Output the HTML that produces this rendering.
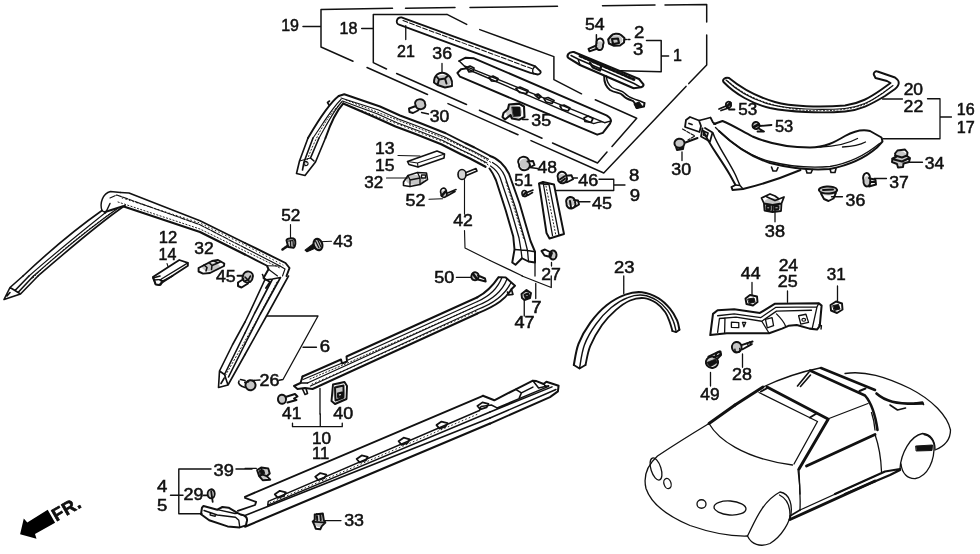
<!DOCTYPE html>
<html><head><meta charset="utf-8"><title>Parts diagram</title>
<style>
html,body{margin:0;padding:0;background:#fff;overflow:hidden;}
svg{display:block;}
.l{fill:none;stroke:#111;stroke-linecap:round;stroke-linejoin:round;}
.f{fill:#111;stroke:#111;}
.w{fill:#fff;stroke:#111;stroke-linejoin:round;}
text{font-family:"Liberation Sans",sans-serif;font-size:16px;fill:#111;}
</style></head><body>
<svg style="will-change:transform" width="980" height="554" viewBox="0 0 980 554">
<rect width="980" height="554" fill="#fff"/>
<!-- 09_fills.frag -->
<g fill="#c6c6c6" stroke="none">
<ellipse cx="443.0" cy="81.0" rx="8.5" ry="6.0"/>
<ellipse cx="420.0" cy="104.5" rx="4.8" ry="4.2"/>
<ellipse cx="616.0" cy="40.0" rx="6.5" ry="4.8"/>
<ellipse cx="599.8" cy="45.0" rx="3.2" ry="3.8"/>
<ellipse cx="729.5" cy="104.5" rx="2.6" ry="3.0"/>
<ellipse cx="756.0" cy="126.0" rx="3.4" ry="3.4"/>
<ellipse cx="679.5" cy="143.5" rx="4.8" ry="4.4"/>
<ellipse cx="900.5" cy="158.5" rx="7.0" ry="7.5"/>
<ellipse cx="867.0" cy="181.0" rx="3.4" ry="4.8"/>
<ellipse cx="828.0" cy="191.0" rx="8.5" ry="4.5"/>
<ellipse cx="772.0" cy="205.0" rx="9.0" ry="7.0"/>
<ellipse cx="525.0" cy="163.6" rx="5.6" ry="5.2"/>
<ellipse cx="562.0" cy="178.5" rx="4.6" ry="4.6"/>
<ellipse cx="571.0" cy="201.0" rx="4.6" ry="4.6"/>
<ellipse cx="524.5" cy="194.5" rx="2.6" ry="3.0"/>
<ellipse cx="553.0" cy="255.0" rx="3.6" ry="4.4"/>
<ellipse cx="526.5" cy="295.0" rx="4.0" ry="4.0"/>
<ellipse cx="475.0" cy="276.6" rx="3.4" ry="3.4"/>
<ellipse cx="443.5" cy="194.0" rx="3.0" ry="3.5"/>
<ellipse cx="415.0" cy="180.0" rx="9.0" ry="5.0"/>
<ellipse cx="250.5" cy="385.5" rx="4.8" ry="4.8"/>
<ellipse cx="282.0" cy="399.0" rx="4.0" ry="4.4"/>
<ellipse cx="339.0" cy="393.0" rx="6.0" ry="9.0"/>
<ellipse cx="263.5" cy="474.0" rx="5.5" ry="5.5"/>
<ellipse cx="211.0" cy="494.0" rx="3.4" ry="4.4"/>
<ellipse cx="319.0" cy="520.0" rx="5.0" ry="7.0"/>
<ellipse cx="736.5" cy="346.5" rx="4.6" ry="5.0"/>
<ellipse cx="712.0" cy="361.0" rx="5.6" ry="5.2"/>
<ellipse cx="247.5" cy="277.0" rx="4.6" ry="4.2"/>
<ellipse cx="211.0" cy="267.0" rx="9.0" ry="4.5"/>
<ellipse cx="462.3" cy="174.8" rx="3.8" ry="4.8"/>
<ellipse cx="514.0" cy="112.0" rx="8.0" ry="7.0"/>
</g>
<!-- 10_t_0_138.frag -->
<g transform="translate(0,138) scale(0.25)" class="l" stroke-width="5.72">
<!-- windshield moulding corner + arms -->
<path d="M408,290 C398,262 410,222 442,214 L482,218"/>
<path d="M482,218 L516,220 L800,331 L980,420" stroke-width="6.50"/>
<path d="M440,240 L467,228 L800,347 L980,440" stroke-width="4.55" stroke-dasharray="22 5"/>
<path d="M420,296 L492,273 L800,376 L980,466" stroke-width="9.10"/>
<path d="M408,290 C300,366 200,450 92,552" stroke-width="6.50"/>
<path d="M420,300 C320,380 220,460 116,552" stroke-width="4.55"/>
<path d="M470,282 C360,360 250,450 134,552" stroke-width="4.55"/>
<path d="M500,270 C390,345 270,450 152,552" stroke-width="6.50"/>
<path d="M408,290 L422,300 L440,262"/>
</g>

<!-- 11_t_245_138.frag -->
<g transform="translate(245,138) scale(0.25)" class="l" stroke-width="6.50">
<!-- pillar bottom (top-left) -->
<path d="M252,0 L218,92 L206,142 L240,150 L282,96 L322,0"/>
<path d="M272,0 L236,96 L230,128 M296,0 L262,80 L276,92"/>
<path d="M218,92 L262,80 M236,100 a8,8 0 1,0 16,4 a8,8 0 1,0 -16,-4" stroke-width="4.55"/>
<!-- leaders -->
<path d="M612,70 L700,72 M566,160 L650,160 M736,245 L790,243 M182,346 L182,400 M300,415 L346,413 M878,166 L878,305 M878,370 L880,440 L980,490" stroke-width="4.55"/>
<!-- pad 13 -->
<path d="M650,94 L768,52 L798,64 L796,80 L692,116 L656,106 Z"/>
<path d="M692,116 L690,100 L650,94 M690,100 L798,64" stroke-width="4.55"/>
<!-- clip 32 -->
<path d="M634,176 L652,150 L690,138 L726,140 L730,166 L700,186 L660,194 L634,190 Z"/>
<path d="M652,150 L660,168 L700,160 L690,138 M660,168 L660,194 M700,160 L700,186 M706,148 h16 v12 h-16z" stroke-width="5.20"/>
<!-- screw 52 -->
<path d="M784,222 a12,14 0 1,0 22,-6 a12,14 0 1,0 -22,6 M806,222 L844,206 M808,232 L840,214" />
<path d="M788,230 l14,-16" stroke-width="10.40"/>
<!-- pin 42 -->
<ellipse cx="868" cy="146" rx="16" ry="20" fill="#d4d4d4" stroke-width="6.50"/>
<path d="M884,138 L924,122 L928,132 L886,150" />
<!-- moulding bottom-left -->
<path d="M0,420 L162,500 L178,520 L166,552" stroke-width="7.80"/><path d="M0,440 L140,512 L160,524 L150,552" stroke-width="4.55"/><path d="M0,466 L88,511 L94,525 L74,560 L100,576 L84,600" stroke-width="7.80"/><path d="M88,511 L140,512 M94,525 L130,552" stroke-width="4.55"/>
<!-- roof moulding top right -->

</g>

<!-- 12_t_490_138.frag -->
<g transform="translate(490,138) scale(0.25)" class="l" stroke-width="6.50">
<!-- bracket 8/9, leaders -->
<path d="M436,165 L495,165 L495,210 L266,210 M495,188 L540,188 M356,255 L400,255 M768,56 L768,90 M160,118 L190,122 M330,160 L350,160" stroke-width="5.20"/>
<!-- rear pillar -->
<path d="M0,72 C30,80 60,110 76,143 L119,264 L162,412 L180,455 L180,498 L154,494 L128,481 L102,507 L89,498 L98,446 L93,394 L63,290 L24,169 C16,150 8,135 -2,122" stroke-width="7.80"/>
<path d="M10,98 C34,112 50,130 59,152 L100,273 L139,406 L150,450 M2,112 C20,124 34,140 41,160 L82,281 L116,400 L124,448 M98,446 L124,448 L150,450 L180,455 M124,448 L128,481 M150,450 L154,494" stroke-width="5.20"/>
<path d="M0,490 L130,552 M180,498 L180,552 M246,498 L246,512" stroke-width="5.20"/>
<!-- strip 8/9 -->
<path d="M196,182 L212,176 L256,186 L296,384 L238,402 L226,380 Z" stroke-width="7.80"/>
<path d="M212,176 L250,390 M236,186 L276,388 M196,182 L236,186" stroke-width="5.20"/>
<!-- clip 48 -->
<g transform="translate(0,10)">
<path d="M116,96 a22,20 0 1,0 40,-8 a22,20 0 1,0 -40,8 M150,84 l22,-2 l6,16 l-20,10" stroke-width="7.80"/>
</g>
<!-- clip 46 -->
<g transform="translate(0,5)">
<path d="M272,156 a18,18 0 1,0 34,-6 a18,18 0 1,0 -34,6 M304,146 l22,-2 l6,16 l-24,12" stroke-width="7.80"/>
<path d="M280,160 l18,-12 M284,170 l16,-12" stroke-width="7.80"/>
</g>
<!-- clip 45 -->
<g transform="translate(0,8)">
<path d="M306,254 a18,18 0 1,0 34,-6 a18,18 0 1,0 -34,6 M336,240 l16,2 l4,16 l-20,12 M320,244 l4,26" stroke-width="7.80"/>
</g>
<!-- screw 51 -->
<path d="M128,224 a10,12 0 1,0 20,-4 a10,12 0 1,0 -20,4 M148,218 L172,208 M150,230 L170,218" stroke-width="6.50"/>
<path d="M132,230 l12,-12" stroke-width="9.10"/>
<!-- clip 27 -->
<path d="M206,452 l14,-6 l28,14 l-6,16 l-24,-6 z M238,470 a14,18 0 1,0 28,-4 a14,18 0 1,0 -28,4" stroke-width="7.80"/>
<!-- clip 30 -->
<path d="M738,24 a20,18 0 1,0 40,-6 a20,18 0 1,0 -40,6 M744,36 l4,12 l24,-4 l2,-12 M782,18 L830,0" stroke-width="7.80"/>
</g>

<!-- 13_t_735_138.frag -->
<g transform="translate(735,138) scale(0.25)" class="l" stroke-width="6.50">
<!-- clip 34 -->
<path d="M650,50 l30,-4 l10,12 l-2,14 l12,8 l-4,16 l-22,6 l-2,14 l-20,2 l-4,-14 l-20,-8 l2,-14 l14,-6 l-4,-14 z M628,84 l40,10 l30,-14 M640,70 l28,8 l20,-8" stroke-width="7.80"/>
<path d="M692,97 L750,97 M556,162 L606,162 M386,235 L430,235 M160,290 L160,335" stroke-width="5.20"/>
<!-- clip 37 -->
<path d="M514,170 a14,20 0 1,0 26,-6 a14,20 0 1,0 -26,6 M536,160 l26,8 l2,18 l-28,8 M540,176 l22,0" stroke-width="7.80"/>
<!-- clip 36 -->
<path d="M336,210 a36,14 0 1,0 72,-4 a36,14 0 1,0 -72,4 M344,222 l12,22 l18,8 l20,-10 l10,-24 M352,208 l40,-2" stroke-width="7.80"/>
<!-- clip 38 -->
<path d="M106,240 L140,224 L160,232 L176,244 L196,236 L186,262 L184,292 L150,296 L118,290 L116,262 Z M116,262 L150,268 L186,262 M150,268 L150,296 M128,236 L160,250 L176,244 M126,272 l14,2 l0,12 l-14,-2 z M158,274 l16,-2 l0,12 l-16,2z" stroke-width="7.15"/>
</g>

<!-- 14_t_0_276.frag -->
<g transform="translate(0,276) scale(0.25)" class="l" stroke-width="6.50">
<!-- left arm tip -->
<path d="M92,0 L40,46 L16,94 L82,72 L152,0 M40,46 L60,58 L82,72 M60,58 L116,0 M74,64 L134,0 M28,80 L40,66"/>
<!-- pad 12/14 bottom end -->
<path d="M612,8 L640,0 M612,8 L622,34 L642,36 L652,20 L690,0 M640,16 L652,20" />
<!-- right arm lower tip -->
<path d="M980,184 L930,275 L878,380 L874,446 L912,436 L980,314 M878,380 L898,394 L912,436 M898,394 L980,228 M914,404 L980,272 M884,430 L896,410" />
<!-- 26 clip bit -->
<path d="M956,420 C950,430 960,440 980,446 M962,414 L980,418" />
</g>

<!-- 15_t_245_276.frag -->
<g transform="translate(245,276) scale(0.25)" class="l" stroke-width="6.50">
<!-- part 6 right arm -->
<path d="M174,0 L86,160 L0,314 M142,6 L60,155 L0,272 M110,12 L38,150 L0,228 M79,16 L19,145 L0,184 M70,-6 L79,16 L110,12 L142,6" />
<path d="M0,20 l14,-6 l8,-14" />
<!-- bracket 6 -->
<path d="M86,160 L292,160 L152,414 L136,417 M232,285 L286,285 M30,418 L60,416 M300,450 L300,552" stroke-width="5.20"/>
<!-- sill upper moulding 10/11 -->
<path d="M230,402 L384,334 L388,350 L408,342 L406,322 L930,85" stroke-width="7.80"/>
<path d="M232,414 L384,350 M412,336 L930,102 M250,428 L930,118 M262,440 L930,134" stroke-width="5.20"/>
<path d="M230,402 L222,428 L196,440 L210,452 L240,448 L270,452 L930,150" stroke-width="7.80"/>
<path d="M222,428 L250,428 M230,452 l10,22 l10,-4 l-6,-20" stroke-width="6.50"/>

<!-- clip 40 -->
<path d="M352,434 L398,424 L408,440 L406,492 L360,512 L346,500 Z M360,446 L394,438 L394,486 L362,498 Z M372,470 l16,-4 l0,14 l-16,4z" stroke-width="7.80"/>
<!-- clip 41 -->
<path d="M132,496 a16,18 0 1,0 32,-6 a16,18 0 1,0 -32,6 M162,484 L200,472 L210,482 L196,490 L206,496 L170,506" stroke-width="7.80"/>
<!-- clip 26 -->
<path d="M2,440 a20,20 0 1,0 40,-6 a20,20 0 1,0 -40,6 M0,426 l14,-4" stroke-width="7.80"/>
</g>

<!-- 16_t_490_276.frag -->
<g transform="translate(490,276) scale(0.25)" class="l" stroke-width="6.50">
<!-- leaders -->
<path d="M183,30 L183,90 M128,0 L245,46 L245,0 M137,96 L137,160 M535,0 L535,70 M882,386 L882,440" stroke-width="5.20"/>
<!-- clip 47 -->
<path d="M126,72 L146,56 L164,68 L160,88 L138,96 L128,88 Z M138,76 l14,-6 l4,10 l-14,6z" stroke-width="7.80"/>
<!-- clip 49 -->
<path d="M864,350 a24,22 0 1,0 48,-10 a24,22 0 1,0 -48,10 M900,326 l6,-18 l16,-6 l2,14 l-12,12" stroke-width="7.80"/>
<path d="M866,346 l36,-14 l8,14 l-30,18z" class="f" stroke-width="2.60"/>
</g>

<!-- 17_t_735_276.frag -->
<g transform="translate(735,276) scale(0.25)" class="l" stroke-width="6.50">
<path d="M68,26 L68,76 M210,60 L210,105 M410,40 L410,100 M30,312 L30,365" stroke-width="5.20"/>
<!-- clip 44 -->
<path d="M42,90 L60,76 L88,82 L90,104 L72,118 L46,112 Z" stroke-width="7.80"/>
<path d="M52,92 l24,-4 l4,16 l-22,6z" class="f" stroke-width="3.90"/>
<!-- clip 31 -->
<path d="M382,116 L404,102 L428,110 L430,134 L408,148 L384,138 Z" stroke-width="7.80"/>
<path d="M392,118 l22,-4 l6,18 l-22,6z" class="f" stroke-width="3.90"/>
</g>

<!-- 18_t_0_414.frag -->
<g class="l" stroke-width="1.43">
<path d="M211,469 L178.8,469 L178.8,513.8 L202,513.8 M170.5,495.3 L183,495.3 M236,469 L252,469"/>
</g>
<polygon points="20.1,534.2 23.8,518.5 27.3,522.4 47.7,509.8 55.1,522.7 35,534 36.5,538.8" fill="#000"/>
<g><text transform="translate(56.2,521.8) rotate(-30)" font-weight="700" style="font-weight:700;font-size:18px;letter-spacing:0.6px" fill="#000" stroke="#000" stroke-width="0.59">FR.</text></g>
<g transform="translate(0,414) scale(0.2526)" class="l" stroke-width="7.15">
<!-- clip 29 -->
<path d="M822,318 a14,18 0 1,0 28,-4 a14,18 0 1,0 -28,4 M836,306 l6,42 M806,322 l14,0" />
</g>

<!-- 19_t_245_414.frag -->
<g transform="translate(245,414) scale(0.2526)" class="l" stroke-width="7.15">
<path d="M188,36 L188,50 L385,50 L385,36 M298,0 L298,50 M0,215 L45,215 M316,422 L380,422" stroke-width="5.20"/>
<!-- clip 39 -->
<path d="M48,222 L64,212 L92,216 L98,236 L86,246 L100,260 L70,262 L56,246 Z M64,212 L70,240 L86,246 M70,240 L56,246" stroke-width="7.80"/>
<path d="M58,224 l16,-2 l4,14 l-16,4z" class="f" stroke-width="3.90"/>
<!-- clip 33 -->
<path d="M276,398 L308,394 L312,420 L318,430 L304,444 L298,456 L280,454 L274,438 L268,426 L276,418 Z M268,426 L318,430 M284,396 l2,24 M298,396 l2,24" stroke-width="7.80"/>
<!-- sill lower moulding -->
<path d="M0,328 L942,-72" stroke-width="7.80"/>
<path d="M92,346 L928,-14 M92,346 L90,362 L970,-8" stroke-width="5.85"/>
<path d="M0,402 L970,16" stroke-width="6.50"/>
<path d="M0,446 L970,38" stroke-width="8.45"/>

<g stroke-width="7.15">
<path d="M118,318 l20,-14 l24,6 l-8,14 l-24,8z M278,248 l20,-14 l24,6 l-8,14 l-24,8z M442,178 l20,-14 l24,6 l-8,14 l-24,8z M608,108 l20,-14 l24,6 l-8,14 l-24,8z M758,44 l20,-14 l24,6 l-8,14 l-24,8z M920,-32 l20,-14 l24,6 l-8,14 l-24,8z"/>
</g>
</g>

<!-- 20_t_245_0.frag -->
<g transform="translate(245,0) scale(0.25)" class="l" stroke-width="6.50">
<!-- leaders -->
<path d="M643,103 L643,158 M788,254 L788,288 M706,450 L734,456" stroke-width="5.20"/>
<!-- clip 36 -->
<path d="M756,330 C756,300 776,288 796,292 C820,298 832,320 828,344 L800,350 L770,340 Z M770,340 l6,-22 l24,-4 l6,20 M776,318 l-8,-10 M800,314 l10,-10" stroke-width="7.80"/>
<!-- clip 30 -->
<path d="M682,420 a20,16 0 1,0 38,-6 a20,16 0 1,0 -38,6 M684,424 l-28,10 l2,14 l14,4 l20,-10" stroke-width="7.80"/>
<!-- rear roof moulding -->
<path d="M375,384 L397,377 L540,426 L620,462 L700,492 L803,533 L880,572 L918,590 L952,608 L980,623 " stroke-width="7.80"/>
<path d="M384,392 L534,440 L614,476 L694,506 L797,547 L874,586 L912,604 L946,622 L974,637 " stroke-width="4.55"/>
<path d="M390,404 L528,455 L608,491 L688,521 L791,562 L868,601 L906,619 L940,637 L968,652 " stroke-width="4.55"/>
<path d="M393,414 L522,470 L602,506 L682,536 L785,577 L862,616 L900,634 L934,652 L962,667 " stroke-width="9.10"/>
<path d="M375,384 C340,410 300,470 252,552" stroke-width="7.80"/>
<path d="M384,398 C350,430 315,490 272,552 M388,406 C356,440 326,500 296,552" stroke-width="4.55"/>
<path d="M393,414 C360,450 340,500 322,552" stroke-width="7.80"/>
<path d="M338,404 l-8,6 l6,10" stroke-width="6.50"/>
</g>

<!-- 21_top.frag -->
<g class="l" stroke-width="1.49">
<!-- box 19 -->
<path d="M392.5,8.3 L321,9.4 L321,47 L353,61.3 M367,67.5 L427.5,94.5 M448,103.6 L518,134.8 M531,140.6 L603.75,173 L686,86.4 M688.8,83.6 L706.7,65 L706.7,35 M706.7,22 L706.7,4.4 L665,4.9 M655,5 L602.5,5.7 M557.5,6.3 L470,7.4 M455,7.6 L405.5,8.2 M303,26.5 L320,26.5"/>
<!-- box 18 -->
<path d="M447,14.4 L373.3,14.4 L373.3,62.6 L386.5,69 M396.6,73.5 L466.5,104.5 M479.4,110.2 L542,138.2 M552.5,143 L597.5,163 L607,152 M612,146.5 L636.7,118.2 L595.3,99.8 M581.5,93.8 L553.9,79.6 L553.9,56.6 L479.8,29.6 M466.7,24.4 L447,14.4 M361.7,28.4 L372.7,28.4"/>
<!-- bracket 1, leaders -->
<path d="M646.5,40.4 L661.2,40.4 L661.2,71.7 L620.7,70.7 M661.2,56 L668.6,56 M596.4,34.8 L596.4,44 M522.6,119.5 L528,119.5"/>
<path d="M624.4,39.6 L630,39.6" stroke-dasharray="2 1.5"/>
</g>
<g class="l" stroke-width="1.82">
<!-- strip 21 -->
<path d="M401.4,17.3 C396,17 395.5,24 399,24.7 L530.4,72.9 L537.8,74.5 C541,74 541.5,71.5 539.4,70.4 L535.3,66.3 Z"/>
<path d="M403,20.6 L534,69.5" stroke-width="1.04" stroke-dasharray="5 2"/>
<path d="M535.3,66.3 C533,68 532,71 533.5,73.8" stroke-width="1.30"/>
<!-- garnish -->
<path d="M459.2,61 L465.6,57.7 L474,58.3 L606.5,115.3 C609.5,117 611,119 611,120.9 L610,123.6 L602.8,132.8 L597.2,134.7 L460,76.7 L457.4,73 L461,69.3 L466.6,68.4" stroke-width="1.95"/>
<path d="M459.2,61 L463.8,65.6 L604.6,122.7 L611,120.9 M463.8,65.6 L466.6,68.4 L474,72 L593.6,123.6 M593.6,123.6 C598,122 602,121 604.6,122.7" stroke-width="1.43"/>
<g stroke-width="1.69">
<path d="M466.5,67.5 l3.5,-1.5 l4,2 l-1,3.5 l-4,0.5z M489,77.5 l4,-1.5 l5,2.5 l-1.5,3 l-5,-0.5z M516,88.5 l4,-1.5 l8,3.5 l-1.500,3 l-7,-1z M535,95 l3,-1 l3,2.500 l-2,2z M544,98.500 l4,-1 l6,3 l-2,3 l-6,-1.500z M560,106 l4,-1 l6,3 l-2,3 l-6,-1.500z M584,118 l4,-2 l5,2.500 l-2,4 l-6,-1z"/>
</g>
<!-- clip 35 -->
<path d="M509,104.500 L519,103.600 L524,106.500 L524.500,117 L519,119.800 L512,118.500 L510.500,115 L505,119.500 L502.500,117 L503.500,113 L508,109 Z" stroke-width="2.08"/>
<path d="M512,107 l8,0 l0.500,9 l-7,0.500z" class="f" stroke-width="0.65"/>
<!-- light 1 -->
<path d="M573.8,52 C568,51.500 566.500,56 568.3,57.9 L580,65 L633.6,88.2 L641,87.3 C644,86 644,84.500 642.8,83.6 L639,79 Z" stroke-width="2.08"/>
<path d="M571,55.500 L578,59 L634,83.500 L641,87.300 M578,59 L580,65" stroke-width="1.43"/>
<path d="M580,56 L634,79.500" stroke-width="2.86" stroke-dasharray="2.200 2.200"/>
<path d="M590,63 l3,4.500 l7,3 l1,-4" stroke-width="2.34"/>
<!-- wire -->
<path d="M604.200,76.300 C604,82 605,86 610,90 C616,93.500 620,92 623,95.500 C626,99 630,100 633,101 C636,103 635,106 636.500,108 L644,106.500 L644.500,103" stroke-width="1.95"/>
<path d="M606.500,76 C606.500,80 607.500,84 612,87.500 C617,90.500 622,90 625,93.500 C628,97 632,98 635.500,99.500 L640,101 L644.500,103" stroke-width="1.43"/>
<path d="M634,104 l5,-2 l3,4 l-5,2.500z" class="f" stroke-width="1.04"/>
<!-- screw 54 -->
<path d="M596.500,43.500 a3.600,4.200 0 1,0 6.500,1.500 a3.600,4.200 0 1,0 -6.500,-1.500 M596.300,45.500 L588.500,48.800 L589.500,51.300 L597.500,48.500" stroke-width="1.95"/>
<!-- clip 2 -->
<path d="M611,36 C613,33.500 618,33 621,35 L624.400,38 L624,42.500 L620,45.500 L614,45.800 L609,43.500 L608.200,39.500 Z M612,39 l6,-0.500 l1,4.500 l-6,1z" stroke-width="2.08"/>
</g>

<!-- 22_part16.frag -->
<g transform="translate(670,100) scale(0.25)" class="l" stroke-width="7.15">
<!-- part 16 main -->
<path d="M176,96 L210,84 C250,100 290,126 330,146 C400,176 480,190 560,190 C620,190 660,168 700,144 C740,122 770,116 800,124 L846,150 L850,166 L828,190 C780,232 720,260 640,276 C560,282 470,270 400,252 C320,226 250,176 196,124" stroke-width="7.80"/>
<path d="M182,110 C240,170 310,222 400,246 C470,264 560,272 640,266 C720,252 780,222 838,174" stroke-width="5.20"/>
<path d="M600,188 C660,186 710,176 750,154 M690,188 C730,186 760,180 782,168" stroke-width="5.20"/>
<path d="M406,268 l6,16 l14,0 l6,-14 M544,278 l4,14 l16,0 l6,-14 M640,276 l4,14 l16,0 l4,-16" stroke-width="6.50"/>
<!-- left descending -->
<path d="M134,124 C150,170 200,230 240,300 L262,340 L246,348 L250,360 L292,356 C360,340 450,310 522,280" stroke-width="7.80"/>
<path d="M172,132 C186,176 230,236 262,300 L280,342 L292,356 M262,340 L280,342" stroke-width="5.85"/>
<!-- bracket left -->
<path d="M64,80 L80,68 L116,82 L140,76 L162,70 L172,90 L182,96 M64,80 L60,108 L118,128 L124,104 L116,82 M130,114 L124,146 L160,166 L170,130 L140,112 M138,126 l14,6 l-4,14 l-14,-6z M76,94 l12,4" stroke-width="7.15"/>
<path d="M50,116 L100,144 L72,160" stroke-width="4.55" stroke-dasharray="14 6"/>
<!-- bracket 16/17 -->
<path d="M852,155 L1080,155 L1080,-5 L1030,-5 M930,-4 L850,-4 M1080,68 L1126,68" stroke-width="5.20"/>
<!-- strip 20/22 -->
<path d="M236,-88 C220,-92 208,-82 214,-72 C260,-24 330,16 400,32 C480,48 600,54 700,46 C760,40 800,20 860,-16 L900,-44 C920,-62 920,-76 900,-90 L830,-114 C822,-118 812,-108 816,-100 L822,-88 L868,-76 L882,-68 L846,-42 C800,-10 760,14 700,22 C600,30 480,26 420,8 C350,-12 280,-52 236,-88 Z" stroke-width="7.80"/>
<path d="M224,-80 C270,-36 340,2 410,20 C480,36 600,42 700,34 C760,28 800,8 852,-28 L892,-58" stroke-width="4.55"/>
<!-- screws 53 -->
<path d="M224,22 a10,12 0 1,0 20,-6 a10,12 0 1,0 -20,6 M224,24 L196,36 M234,32 L204,42 M236,38 L258,38" stroke-width="7.15"/>
<path d="M228,26 l14,-14" stroke-width="10.40"/>
<path d="M330,104 a14,14 0 1,0 28,-4 a14,14 0 1,0 -28,4 M352,112 l24,14 l-26,0 M358,104 L406,100" stroke-width="7.15"/>
<path d="M336,108 l18,-10" stroke-width="10.40"/>
</g>

<!-- 23_left_small.frag -->
<g class="l" stroke-width="1.82">
<!-- pad 12/14 -->
<path d="M152.900,277.100 L179.300,260 L187.900,262.900 L187.900,265.700 L161.400,282.900 L159.300,285 L155.700,284.300 L154.300,280 Z"/>
<path d="M154.300,280 L161,279.300 L187.900,262.900 M161,279.300 L161.400,282.900" stroke-width="1.30"/>
<path d="M167,263.500 l1,3" stroke-width="1.04"/>
<!-- clip 32 left -->
<path d="M198.600,268 L212,261 L218,260 L224.300,263.500 L224,266 L210,273 L203,273.600 L198.600,271.500 Z" stroke-width="1.95"/>
<path d="M204,265 l3,2.500 l-1,3.500 M209,262.500 l3,3 l7,-3 M212,265.500 l-0.500,4 M214,261 l4,2 l3,-1.500" stroke-width="1.56"/>
<!-- clip 45 left -->
<path d="M243,276 a5,4.500 0 1,0 9.500,2 a5,4.500 0 1,0 -9.500,-2 M243.500,279 l-5.500,3.500 l0,3.500 l3.500,1.500 l6.500,-4 M237.500,275.700 L243,275.700" stroke-width="1.95"/>
<path d="M245,277 l5,5" stroke-width="1.56"/>
</g>

<!-- 24_sill_end.frag -->
<g class="l" stroke-width="1.82">
<path d="M477.500,297.200 C487,292 494,284 498.600,277.100 L505.700,277.400 L515,285.700 L511.400,289.300 C506,298 498,305 477.500,313.300" stroke-width="1.95"/>
<path d="M477.500,301.500 C490,296 498,288 502,277.300 M477.500,305.500 C492,300 502,292 507,279 M477.500,309.500 C495,303 505,295 511,282.500" stroke-width="1.30"/>
<path d="M511.400,289.300 L512.900,294.300 L508.600,295 L507.500,292" stroke-width="1.69"/>
<!-- screw 50 -->
<path d="M471.500,275.500 a3.600,3.600 0 1,0 7,1.500 a3.600,3.600 0 1,0 -7,-1.500 M478,275.500 L485,278.500 L485.700,281.500 L478,279.500" stroke-width="1.95"/>
<path d="M473,274 l4,5" stroke-width="2.60"/>
<path d="M456.400,277.400 L471.400,277.400" stroke-width="1.30"/>
</g>

<!-- 25_sill_lower_end.frag -->
<g class="l" stroke-width="1.82">
<path d="M482.900,395.700 L494.300,400.300 L515.700,389.300 L532.900,380.700 L536.400,381.100 L543.600,384 L546.400,381.700 L558.600,385.700 L557.900,391.400 L550,397.100 L490,423.600" stroke-width="2.02"/>
<path d="M479.400,410.500 L481,406.500 L491.400,405 L497.100,407.900 L548.600,386.400 M490,412 L552,386.800 M490,418 L556,389.500" stroke-width="1.43"/>
<path d="M515.700,389.300 L521.400,392.900 L532.900,387.100 M521.400,392.900 L519.300,397.900 M532.900,380.700 L538.600,387.900 L548.600,385.700 M543.600,384 L546,386.500" stroke-width="1.56"/>
</g>

<!-- 26_sill_front_cap.frag -->
<g class="l" stroke-width="1.82">
<path d="M245,497.900 L256.100,501.900 L255.100,505 L237.800,510.800" stroke-width="1.82"/>
<path d="M202,507.700 L203.500,506 L217.300,509.700 L222.400,507 L228.600,507.700 L237.800,513.200 L240.800,514.600 C246,515.500 247.500,518 246.900,521 L245.900,525.400 L239.800,527.400 L227.600,526.400 L209.200,520.300 L201,514.200 Z" stroke-width="2.02"/>
<path d="M204,510.500 L217.300,515 L235.500,517.200 L238.800,520.300 M217.300,509.700 L235,513.500 L237.800,513.200 M210.200,512.600 l5,1.500 l0,2.200 l-5,-1.300z M240.800,514.600 L245,515.800 M238.800,520.300 L239.800,527.400" stroke-width="1.37"/>
</g>

<!-- 27_bracket24.frag -->
<g transform="translate(690,255) scale(0.18406)" class="l" stroke-width="9.10">
<path d="M125,320 L150,300 L240,295 L380,315 L460,265 L700,262 L715,275 L705,385 L690,405 L650,400 L580,380 L535,385 L500,400 L430,425 L200,425 L110,435 Z" stroke-width="11.05"/>
<path d="M150,330 L240,320 L385,340 L465,285 L690,282 L665,395 M160,345 L250,338 L390,360 L470,305 L660,300 M160,345 L150,420 M190,342 L188,425 M700,262 L690,282 M470,320 C490,340 510,360 520,388 M390,360 L430,425" stroke-width="7.15"/>
<path d="M225,365 l40,2 l0,28 l-40,-2z M285,366 l18,0 l-10,24z M410,350 l36,-10 l8,44 l-34,12z M590,330 l40,-8 l14,44 l-42,10z" stroke-width="7.15"/>
<ellipse cx="618" cy="352" rx="10" ry="8" stroke-width="6.50"/>
<path d="M700,380 l14,4 l-2,18" stroke-width="7.80"/>
<!-- screw 28 -->
<path d="M228,505 a26,28 0 1,0 52,-8 a26,28 0 1,0 -52,8 M280,490 L340,470 M286,512 L336,484" stroke-width="10.40"/>
<path d="M244,512 a14,14 0 1,0 26,-4" stroke-width="7.80"/>
<path d="M310,478 l8,16 M324,472 l6,14" stroke-width="6.50"/>
<!-- screw 49 tip -->
<path d="M100,552 L160,524 L168,540 L130,556" stroke-width="10.40"/>
</g>

<!-- 28_fasteners_a.frag -->
<g class="l" stroke-width="1.69">
<!-- clip 52 left -->
<path d="M286.500,240.200 C287,238.200 293,237.600 294.800,239.500 C295.900,242 295.600,246 293.600,247.800 L288.200,247 Z" fill="#bdbdbd" stroke-width="1.95"/>
<path d="M288.500,241 l4.500,-0.500 l0.300,5 M290.500,240.800 l0.200,5.500" stroke-width="1.17"/>
<path d="M287.500,246 L282.500,249.500" stroke-width="2.60" stroke-dasharray="1.500 1"/>
<!-- screw 43 -->
<ellipse cx="318" cy="244.500" rx="4.300" ry="5.800" transform="rotate(-20 318 244.500)" fill="#c4c4c4" stroke-width="2.08"/>
<path d="M315.500,241 l3.500,7 M317.800,240 l3.200,7" stroke-width="1.17"/>
<path d="M305,250.200 L313.200,243.800 L315.600,248 L307,251.800 Z" fill="#111" stroke-width="1.04"/>
</g>

<!-- 29_arch23.frag -->
<g class="l" stroke-width="1.82">
<!-- arch 23 -->
<path d="M573.8,365.0 C574.6,361.5 575.8,350.9 578.5,343.9 C581.2,336.9 585.5,329.2 590.2,322.8 C594.9,316.4 600.7,309.9 606.6,305.2 C612.5,300.5 619.5,296.8 625.4,294.6 C631.3,292.5 636.4,291.7 641.9,292.3 C647.4,292.9 653.6,295.4 658.3,298.1 C663.0,300.8 666.9,305.0 670.0,308.7 C673.1,312.4 675.5,316.9 677.1,320.4 C678.7,323.9 679.0,328.2 679.4,329.8" stroke-width="2.02"/>
<path d="M579.5,368.5 C580.3,364.6 581.6,352.5 584.4,345.0 C587.1,337.6 591.6,330.2 596.1,324.0 C600.6,317.7 606.0,311.9 611.3,307.5 C616.6,303.1 622.5,299.6 627.8,297.6 C633.0,295.5 638.1,294.7 643.0,295.2 C647.9,295.7 653.0,297.9 657.1,300.5 C661.2,303.0 664.9,306.9 667.6,310.4 C670.4,314.0 672.2,318.3 673.5,321.6 C674.9,324.9 675.5,328.9 675.9,330.4" stroke-width="1.43"/>
<path d="M585.5,365.0 C586.3,361.9 587.5,352.8 590.2,346.2 C593.0,339.6 597.7,331.2 602.0,325.1 C606.3,319.1 611.3,314.0 616.0,309.9 C620.7,305.8 625.4,302.5 630.1,300.5 C634.8,298.5 639.9,297.7 644.2,298.1 C648.5,298.5 652.5,300.5 656.0,302.8 C659.5,305.1 663.0,308.9 665.3,312.2 C667.6,315.5 668.8,319.7 670.0,322.8 C671.2,325.9 672.0,329.6 672.4,331.0" stroke-width="1.82"/>
<path d="M573.8,365 L579.5,368.5 L585.5,365 M672.4,331 L676,332.2 L679.4,329.8" stroke-width="1.82"/>
</g>

<!-- 30_car.frag -->
<!-- car upper: origin 735,356 scale 4 -->
<g transform="translate(735,356) scale(0.25)" class="l" stroke-width="5.20">
<path d="M0,196 L112,124" stroke-width="11.70"/>
<path d="M128,124 L372,252" stroke-width="11.70"/>
<path d="M104,142 L130,128 M300,246 L326,230" stroke-width="7.80"/>
<path d="M112,124 C180,92 250,66 340,48"/>
<path d="M300,58 L520,158 C548,190 562,240 570,296" stroke-width="10.40"/>
<path d="M344,48 L560,136" stroke-width="10.40"/>
<path d="M498,140 L522,130" stroke-width="7.80"/>
<path d="M546,226 C554,250 558,270 560,296" />
<path d="M250,120 L296,64 M262,122 L302,76" stroke-width="6.50"/>
<path d="M96,146 L330,262 L236,432"/>
<path d="M372,254 L256,452" stroke-width="11.70"/>
<path d="M376,250 L532,190"/>
<path d="M286,440 L560,314" stroke-width="11.70"/>
<path d="M560,314 C576,360 584,410 586,462 M256,456 L260,552"/>
<path d="M400,552 L600,462 L660,452 M440,552 L620,476 L660,456" stroke-width="9.10"/>
<path d="M660,450 C664,390 700,320 750,310 C784,312 800,340 800,372"/>
<path d="M664,432 C668,470 690,492 722,490 C770,480 800,420 796,352 C790,330 776,318 756,314"/>
<path d="M724,360 l66,-4 l-2,22 l-62,2z" class="f" stroke-width="3.90"/>
<path d="M440,70 C520,58 600,82 700,130 C790,176 850,240 862,296 C862,340 830,364 800,376"/>
<path d="M566,150 C600,180 640,194 750,190" stroke-width="10.40"/>
<path d="M620,196 L650,216 L682,208" stroke-width="6.50"/>
<path d="M720,188 l30,-4 l4,10" stroke-width="6.50"/>
</g>
<!-- car lower: origin 630,416 scale 4 -->
<g transform="translate(630,416) scale(0.25)" class="l" stroke-width="5.20">
<path d="M316,30 L420,-44" stroke-width="11.70"/>
<path d="M316,30 C250,70 170,120 110,160 C70,196 52,240 64,290 C84,350 150,400 240,438 C320,466 400,482 470,480"/>
<path d="M316,30 C350,90 450,170 650,196"/>
<path d="M672,214 C680,270 682,320 680,376"/>
<path d="M680,376 L980,240"/>
<path d="M640,414 L980,260" stroke-width="11.70"/>
<path d="M640,400 L680,376" stroke-width="6.50"/>
<path d="M470,480 C500,420 530,340 600,304 C640,310 654,360 640,412"/>
<path d="M470,480 C486,514 520,526 560,510 C610,480 640,420 640,396 C640,360 626,330 598,316"/>
<ellipse cx="104" cy="212" rx="20" ry="46" transform="rotate(-18 104 212)"/>
<ellipse cx="150" cy="270" rx="14" ry="21" transform="rotate(-18 150 270)"/>
<ellipse cx="286" cy="352" rx="18" ry="17"/>
<ellipse cx="400" cy="368" rx="64" ry="28" transform="rotate(4 400 368)"/>
</g>

<!-- 40_texture.frag -->
<g class="l" stroke="#333" stroke-width="0.91" stroke-dasharray="1.2 2.2">
<!-- windshield moulding top arm -->
<path d="M118,202 L200,229 L245,251 L280,268"/>
<path d="M122,198 L200,223 L245,245 L283,265" stroke-dasharray="0.8 3"/>
<!-- left arm -->
<path d="M112,212 C85,232 55,255 32,279"/>
<!-- right arm -->
<path d="M277,282 L258,318 L224,378"/>
<!-- rear roof moulding -->
<path d="M346,100 L400,121 L446,139 L475,153 L492,163"/>
<path d="M344,104 L400,125 L446,143 L475,157 L490,166" stroke-dasharray="0.8 3"/>
<path d="M338,106 C326,118 314,140 305,166"/>
<!-- rear pillar -->
<path d="M506,182 L524,240"/>
<!-- upper sill -->
<path d="M310,379 L350,362 L477,306"/>
<path d="M312,384 L350,368 L477,311" stroke-dasharray="0.8 3"/>
<!-- lower sill ledge -->
<path d="M270,503 L478,414" stroke-dasharray="0.8 3"/>
<!-- strip 20 -->
<path d="M728,81 C745,97 770,106 800,110 C830,112 850,110 866,104 L890,88"/>
<!-- strip 8/9 -->
<path d="M546,186 L556,236"/>
</g>

<!-- 90_labels.frag -->
<g opacity="0.999" stroke="#111" stroke-width="0.52">
<text transform="translate(281.15,30.50) scale(1.000,1)">19</text>
<text transform="translate(339.54,33.75) scale(1.006,1)">18</text>
<text transform="translate(396.98,57.00) scale(1.000,1)">21</text>
<text transform="translate(432.34,58.75) scale(1.106,1)">36</text>
<text transform="translate(429.84,122.00) scale(1.099,1)">30</text>
<text transform="translate(585.02,30.20) scale(1.108,1)">54</text>
<text transform="translate(633.94,37.60) scale(1.160,1)">2</text>
<text transform="translate(633.10,54.70) scale(1.160,1)">3</text>
<text transform="translate(672.90,60.60) scale(1.000,1)">1</text>
<text transform="translate(531.23,126.40) scale(1.115,1)">35</text>
<text transform="translate(903.63,95.30) scale(1.091,1)">20</text>
<text transform="translate(903.62,111.50) scale(1.105,1)">22</text>
<text transform="translate(956.69,115.20) scale(1.006,1)">16</text>
<text transform="translate(956.68,133.30) scale(1.013,1)">17</text>
<text transform="translate(738.35,115.20) scale(1.067,1)">53</text>
<text transform="translate(774.88,132.20) scale(1.030,1)">53</text>
<text transform="translate(374.93,153.50) scale(1.101,1)">13</text>
<text transform="translate(374.93,170.50) scale(1.101,1)">15</text>
<text transform="translate(364.36,188.00) scale(1.067,1)">32</text>
<text transform="translate(405.47,206.00) scale(1.120,1)">52</text>
<text transform="translate(281.25,220.50) scale(1.074,1)">52</text>
<text transform="translate(333.31,246.75) scale(1.093,1)">43</text>
<text transform="translate(453.31,226.00) scale(1.099,1)">42</text>
<text transform="translate(537.56,173.00) scale(1.093,1)">48</text>
<text transform="translate(514.27,185.50) scale(1.043,1)">51</text>
<text transform="translate(578.30,185.50) scale(1.123,1)">46</text>
<text transform="translate(592.05,208.50) scale(1.123,1)">45</text>
<text transform="translate(628.96,181.00) scale(1.160,1)">8</text>
<text transform="translate(629.84,200.50) scale(1.160,1)">9</text>
<text transform="translate(671.33,175.00) scale(1.114,1)">30</text>
<text transform="translate(614.08,273.00) scale(1.150,1)">23</text>
<text transform="translate(541.22,279.70) scale(1.105,1)">27</text>
<text transform="translate(924.84,169.25) scale(1.093,1)">34</text>
<text transform="translate(889.34,188.00) scale(1.098,1)">37</text>
<text transform="translate(845.59,206.00) scale(1.106,1)">36</text>
<text transform="translate(764.82,236.75) scale(1.136,1)">38</text>
<text transform="translate(778.63,270.50) scale(1.091,1)">24</text>
<text transform="translate(740.81,278.50) scale(1.109,1)">44</text>
<text transform="translate(826.86,279.75) scale(1.067,1)">31</text>
<text transform="translate(777.85,287.25) scale(1.120,1)">25</text>
<text transform="translate(732.10,379.75) scale(1.120,1)">28</text>
<text transform="translate(434.21,282.90) scale(1.127,1)">50</text>
<text transform="translate(319.78,352.25) scale(1.160,1)">6</text>
<text transform="translate(259.60,386.00) scale(1.120,1)">26</text>
<text transform="translate(282.07,418.50) scale(1.084,1)">41</text>
<text transform="translate(333.30,418.50) scale(1.116,1)">40</text>
<text transform="translate(531.24,312.90) scale(1.160,1)">7</text>
<text transform="translate(514.55,328.00) scale(1.130,1)">47</text>
<text transform="translate(700.32,399.75) scale(1.084,1)">49</text>
<text transform="translate(213.52,475.90) scale(1.140,1)">39</text>
<text transform="translate(157.05,491.80) scale(1.160,1)">4</text>
<text transform="translate(156.99,511.20) scale(1.160,1)">5</text>
<text transform="translate(183.50,499.90) scale(1.123,1)">29</text>
<text transform="translate(311.91,444.30) scale(1.075,1)">10</text>
<text transform="translate(311.95,459.00) scale(1.041,1)">11</text>
<text transform="translate(344.13,525.90) scale(1.115,1)">33</text>
<text transform="translate(158.75,243.30) scale(1.038,1)">12</text>
<text transform="translate(158.60,260.00) scale(1.000,1)">14</text>
<text transform="translate(194.35,254.30) scale(1.091,1)">32</text>
<text transform="translate(215.95,282.10) scale(1.114,1)">45</text>
</g>
</svg>
</body></html>
